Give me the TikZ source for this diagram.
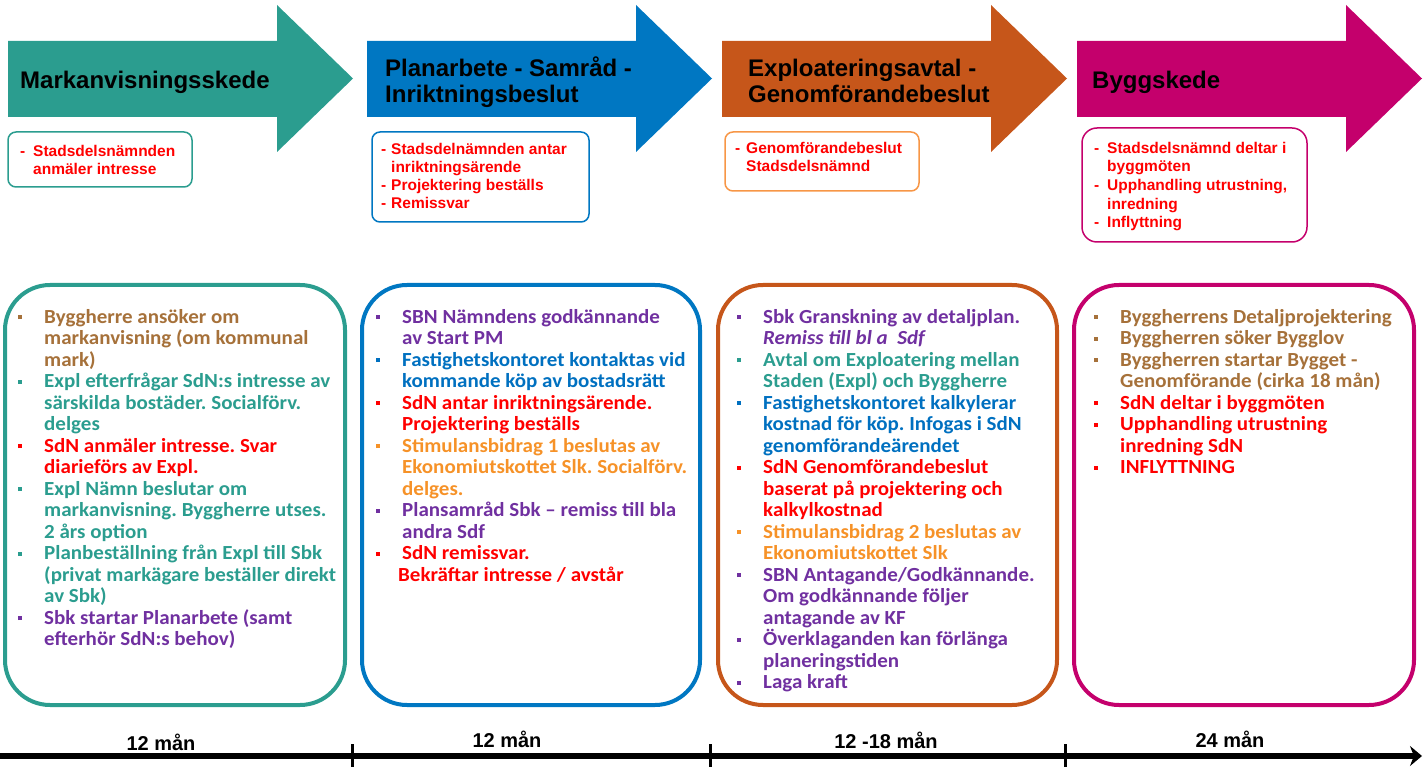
\documentclass[tikz,border=0pt]{standalone}
\usepackage{fontspec}
\setmainfont[FakeStretch=1.05]{Carlito}
\newfontfamily\arial{Liberation Sans}
\usetikzlibrary{arrows.meta}
\frenchspacing

\definecolor{tealc}{RGB}{43,157,143}
\definecolor{bluec}{RGB}{0,119,194}
\definecolor{orangec}{RGB}{198,86,26}
\definecolor{magc}{RGB}{196,0,108}
\definecolor{lorange}{RGB}{247,150,70}
\definecolor{brn}{RGB}{166,113,58}
\definecolor{purp}{RGB}{112,48,160}
\definecolor{bluet}{RGB}{0,112,192}
\definecolor{orng}{RGB}{246,146,40}

% bullet line and continuation line (colour per line)
\newcommand{\bi}[1]{\makebox[26pt][l]{\textcolor{#1}{\rule[4pt]{4pt}{4pt}}}\color{#1}}
\newcommand{\ci}[1]{\hspace*{26pt}\color{#1}}
\newcommand{\dsh}[1]{\makebox[#1][l]{-}}

\begin{document}
\begin{tikzpicture}[x=1pt, y=-1pt,
    bigbox/.style={line width=4pt, rounded corners=45pt},
    smallbox/.style={line width=1.5pt, rounded corners=8pt},
    bigtxt/.style={anchor=base west, inner sep=0pt, align=left, font=\fontsize{20}{21.5}\selectfont\bfseries},
    smalltxt/.style={anchor=base west, inner sep=0pt, align=left, text=red, font={\arial\fontsize{15.5}{18}\selectfont\bfseries}},
    headtxt/.style={anchor=base west, inner sep=0pt, align=left, font={\arial\fontsize{24}{26}\selectfont\bfseries}},
    timetxt/.style={anchor=base, inner sep=0pt, font={\arial\fontsize{20}{22}\selectfont\bfseries}}]
    \useasboundingbox (0,0) rectangle (1428,767);
    % note: base of a multi-line node = baseline of its last line

    %Phase arrows
    \foreach \x/\c in {8/tealc, 367/bluec, 722/orangec, 1077/magc}
        \fill[\c] (\x,41) -- (\x+269,41) -- (\x+269,5) -- (\x+345,78.5) -- (\x+269,152) -- (\x+269,117) -- (\x,117) -- cycle;
    \node[headtxt] (h1) at (20,89) {Markanvisningsskede};
    \node[headtxt] (h2) at (385,103) {Planarbete - Samråd -\\Inriktningsbeslut};
    \node[headtxt] (h3) at (748,103) {Exploateringsavtal -\\Genomförandebeslut};
    \node[headtxt] (h4) at (1092,89) {Byggskede};

    %Small boxes
    \draw[smallbox, tealc] (8,132) rectangle (192,187);
    \node[smalltxt] (s1) at (20,175) {\dsh{13pt}Stadsdelsnämnden\\\hspace*{13pt}anmäler intresse};
    \draw[smallbox, bluec] (372,132) rectangle (589,222);
    \node[smalltxt] (s2) at (381,209) {\dsh{10pt}Stadsdelnämnden antar\\\hspace*{10pt}inriktningsärende\\\dsh{10pt}Projektering beställs\\\dsh{10pt}Remissvar};
    \draw[smallbox, lorange] (725,132) rectangle (919,191);
    \node[smalltxt] (s3) at (735,172) {\dsh{11pt}Genomförandebeslut\\\hspace*{11pt}Stadsdelsnämnd};
    \draw[smallbox, magc, rounded corners=15pt] (1082,128) rectangle (1307,242);
    \node[smalltxt, font={\arial\fontsize{15.5}{18.7}\selectfont\bfseries}] (s4) at (1094,228) {\dsh{13pt}Stadsdelsnämnd deltar i\\\hspace*{13pt}byggmöten\\\dsh{13pt}Upphandling utrustning,\\\hspace*{13pt}inredning\\\dsh{13pt}Inflyttning};

    %Big boxes
    \draw[bigbox, tealc] (5,285) rectangle (345,705);
    \node[bigtxt] (b1) at (18,645.5) {\bi{brn}Byggherre ansöker om\\
        \ci{brn}markanvisning (om kommunal\\
        \ci{brn}mark)\\
        \bi{tealc}Expl efterfrågar SdN:s intresse av\\
        \ci{tealc}särskilda bostäder. Socialförv.\\
        \ci{tealc}delges\\
        \bi{red}SdN anmäler intresse. Svar\\
        \ci{red}diarieförs av Expl.\\
        \bi{tealc}Expl Nämn beslutar om\\
        \ci{tealc}markanvisning. Byggherre utses.\\
        \ci{tealc}2 års option\\
        \bi{tealc}Planbeställning från Expl till Sbk\\
        \ci{tealc}(privat markägare beställer direkt\\
        \ci{tealc}av Sbk)\\
        \bi{purp}Sbk startar Planarbete (samt\\
        \ci{purp}efterhör SdN:s behov)};
    \draw[bigbox, bluec] (362,285) rectangle (700,705);
    \node[bigtxt] (b2) at (376,581) {\bi{purp}SBN Nämndens godkännande\\
        \ci{purp}av Start PM\\
        \bi{bluet}Fastighetskontoret kontaktas vid\\
        \ci{bluet}kommande köp av bostadsrätt\\
        \bi{red}SdN antar inriktningsärende.\\
        \ci{red}Projektering beställs\\
        \bi{orng}Stimulansbidrag 1 beslutas av\\
        \ci{orng}Ekonomiutskottet Slk. Socialförv.\\
        \ci{orng}delges.\\
        \bi{purp}Plansamråd Sbk – remiss till bla\\
        \ci{purp}andra Sdf\\
        \bi{red}SdN remissvar.\\
        \hspace*{22pt}\color{red}Bekräftar intresse / avstår};
    \draw[bigbox, orangec] (718,285) rectangle (1057,705);
    \node[bigtxt] (b3) at (737,688.5) {\bi{purp}Sbk Granskning av detaljplan.\\
        \ci{purp}{\itshape Remiss till bl a\ \ Sdf}\\
        \bi{tealc}Avtal om Exploatering mellan\\
        \ci{tealc}Staden (Expl) och Byggherre\\
        \bi{bluet}Fastighetskontoret kalkylerar\\
        \ci{bluet}kostnad för köp. Infogas i SdN\\
        \ci{bluet}genomförandeärendet\\
        \bi{red}SdN Genomförandebeslut\\
        \ci{red}baserat på projektering och\\
        \ci{red}kalkylkostnad\\
        \bi{orng}Stimulansbidrag 2 beslutas av\\
        \ci{orng}Ekonomiutskottet Slk\\
        \bi{purp}SBN Antagande/Godkännande.\\
        \ci{purp}Om godkännande följer\\
        \ci{purp}antagande av KF\\
        \bi{purp}Överklaganden kan förlänga\\
        \ci{purp}planeringstiden\\
        \bi{purp}Laga kraft};
    \draw[bigbox, magc] (1074,285) rectangle (1414,705);
    \node[bigtxt] (b4) at (1094,473.5) {\bi{brn}Byggherrens Detaljprojektering\\
        \bi{brn}Byggherren söker Bygglov\\
        \bi{brn}Byggherren startar Bygget -\\
        \ci{brn}Genomförande (cirka 18 mån)\\
        \bi{red}SdN deltar i byggmöten\\
        \bi{red}Upphandling utrustning\\
        \ci{red}inredning SdN\\
        \bi{red}INFLYTTNING};

    %Time line
    \coordinate (t0) at (0,756);
    \coordinate (t1) at (1422,756);
    \draw[line width=6pt, -{Stealth[length=12pt, width=20pt]}] (t0) -- (t1);
    \foreach \x in {352, 710, 1065}
        \draw[line width=3pt] (\x,744) -- (\x,767);
    \node[timetxt] (m1) at (161,750) {12 mån};
    \node[timetxt] (m2) at (507,747) {12 mån};
    \node[timetxt] (m3) at (886,748) {12 -18 mån};
    \node[timetxt] (m4) at (1230,747) {24 mån};
\end{tikzpicture}
\end{document}
